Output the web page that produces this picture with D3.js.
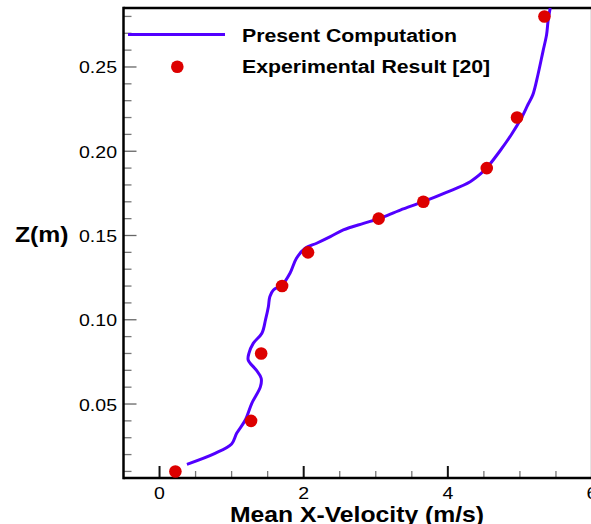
<!DOCTYPE html>
<html>
<head>
<meta charset="utf-8">
<script src="https://cdn.jsdelivr.net/npm/d3@7"></script>
<style>
  html, body { margin: 0; padding: 0; background: #fff; }
  svg { display: block; font-family: Arial, "Liberation Sans", Helvetica, sans-serif; }
</style>
</head>
<body>
<svg id="chart" width="591" height="524"></svg>
<script>
// Experimental velocity profile
const expVelocity = [0.22, 1.27, 1.41, 1.70, 2.06, 3.04, 3.66, 4.54, 4.96, 5.34];
const expHeight   = [0.01, 0.04, 0.08, 0.12, 0.14, 0.16, 0.17, 0.19, 0.22, 0.28];

// Computed velocity profile
const compVelocity = [0.38, 0.77, 1.00, 1.07, 1.19, 1.28, 1.40, 1.41, 1.34, 1.23, 1.24, 1.30,
  1.42, 1.47, 1.51, 1.53, 1.58, 1.70, 1.81, 1.90, 2.02, 2.18, 2.37, 2.55, 2.83, 3.03, 3.34,
  3.66, 3.98, 4.31, 4.49, 4.54, 4.72, 4.88, 5.02, 5.11, 5.18, 5.25, 5.32, 5.37, 5.39, 5.42];
const compHeight = [0.0142, 0.0207, 0.0263, 0.0326, 0.0405, 0.0504, 0.0603, 0.0653, 0.0702,
  0.0761, 0.0801, 0.0860, 0.0920, 0.0999, 0.1077, 0.1137, 0.1177, 0.1206, 0.1276, 0.1365,
  0.1424, 0.1454, 0.1493, 0.1533, 0.1572, 0.1598, 0.1651, 0.1701, 0.1756, 0.1819, 0.1879,
  0.1901, 0.2000, 0.2098, 0.2197, 0.2276, 0.2336, 0.2454, 0.2593, 0.2692, 0.2771, 0.2850];

const xMajorTicks = [0, 2, 4, 6];
const xMinorTicks = [0.5, 1, 1.5, 2.5, 3, 3.5, 4.5, 5, 5.5];
const yMajorTicks = [0.05, 0.10, 0.15, 0.20, 0.25];
const yMinorTicks = d3.range(1, 29).map(i => i / 100).filter(v => Math.round(v * 100) % 5 !== 0);

const xTitle = "Mean X-Velocity (m/s)";
const yTitle = "Z(m)";
const legendNames = ["Present Computation", "Experimental Result [20]"];

const lineColor = "#5200ff";
const dotColor = "#dd0000";
const stretch = 1.15;

const svg = d3.select("#chart");
const plotLeft = 123.5, plotRight = 592, plotTop = 8, plotBottom = 478;

const x = d3.scaleLinear().domain([-0.5, 6]).range([plotLeft, plotRight]);
const y = d3.scaleLinear().domain([0.0061, 0.285]).range([plotBottom, plotTop]);

svg.append("defs").append("clipPath").attr("id", "plotClip")
  .append("rect").attr("x", plotLeft).attr("y", plotTop)
  .attr("width", plotRight - plotLeft).attr("height", plotBottom - plotTop);

// right frame edge, faint
svg.append("line").attr("x1", 590.5).attr("x2", 590.5).attr("y1", plotTop).attr("y2", plotBottom)
  .attr("stroke", "#e4e4e4").attr("stroke-width", 1);

// y ticks (inward)
const yAxisG = svg.append("g");
yMinorTicks.forEach(v => {
  yAxisG.append("line").attr("x1", plotLeft).attr("x2", plotLeft + 8)
    .attr("y1", y(v)).attr("y2", y(v)).attr("stroke", "#777").attr("stroke-width", 1.3);
});
yMajorTicks.forEach(v => {
  yAxisG.append("line").attr("x1", plotLeft).attr("x2", plotLeft + 13)
    .attr("y1", y(v)).attr("y2", y(v)).attr("stroke", "#666").attr("stroke-width", 1.3);
  yAxisG.append("text")
    .attr("transform", `translate(117,${y(v) + 6.5}) scale(${stretch},1)`)
    .attr("text-anchor", "end").attr("font-size", 17).attr("fill", "#000")
    .text(d3.format(".2f")(v));
});

// x ticks (inward)
const xAxisG = svg.append("g");
xMinorTicks.forEach(v => {
  xAxisG.append("line").attr("x1", x(v)).attr("x2", x(v))
    .attr("y1", plotBottom).attr("y2", plotBottom - 7).attr("stroke", "#777").attr("stroke-width", 1.3);
});
xMajorTicks.forEach(v => {
  xAxisG.append("line").attr("x1", x(v)).attr("x2", x(v))
    .attr("y1", plotBottom).attr("y2", plotBottom - 12).attr("stroke", "#111").attr("stroke-width", 2);
  xAxisG.append("text")
    .attr("transform", `translate(${x(v)},498.5) scale(${stretch},1)`)
    .attr("text-anchor", "middle").attr("font-size", 17).attr("fill", "#000")
    .text(v);
});

// frame lines
svg.append("line").attr("x1", plotLeft).attr("x2", plotLeft)
  .attr("y1", plotTop - 1.2).attr("y2", plotBottom + 1.2)
  .attr("stroke", "#000").attr("stroke-width", 2.5);
svg.append("line").attr("x1", plotLeft).attr("x2", 591).attr("y1", plotBottom).attr("y2", plotBottom)
  .attr("stroke", "#000").attr("stroke-width", 2.5);
svg.append("line").attr("x1", plotLeft).attr("x2", 591).attr("y1", plotTop).attr("y2", plotTop)
  .attr("stroke", "#000").attr("stroke-width", 2.5);

// computed profile
const compData = compVelocity.map((v, i) => [v, compHeight[i]]);
svg.append("path").datum(compData)
  .attr("clip-path", "url(#plotClip)")
  .attr("fill", "none").attr("stroke", lineColor).attr("stroke-width", 3)
  .attr("stroke-linejoin", "round")
  .attr("d", d3.line().curve(d3.curveCatmullRom.alpha(0.5)).x(d => x(d[0])).y(d => y(d[1])));

// experimental points
svg.append("g").selectAll("circle")
  .data(expVelocity.map((v, i) => [v, expHeight[i]]))
  .join("circle")
  .attr("cx", d => x(d[0])).attr("cy", d => y(d[1])).attr("r", 6.3)
  .attr("fill", dotColor);

// legend
svg.append("line").attr("x1", 128).attr("x2", 225).attr("y1", 34.5).attr("y2", 34.5)
  .attr("stroke", lineColor).attr("stroke-width", 3);
svg.append("circle").attr("cx", 177.3).attr("cy", 66.7).attr("r", 6.3).attr("fill", dotColor);
svg.append("text")
  .attr("transform", `translate(242,41.7) scale(${stretch},1)`)
  .attr("font-size", 18.5).attr("font-weight", "bold").attr("fill", "#000")
  .text(legendNames[0]);
svg.append("text")
  .attr("transform", `translate(242,73) scale(${stretch},1)`)
  .attr("font-size", 18.5).attr("font-weight", "bold").attr("fill", "#000")
  .text(legendNames[1]);

// axis titles
svg.append("text")
  .attr("transform", `translate(357,521.5) scale(${stretch},1)`)
  .attr("text-anchor", "middle").attr("font-size", 21.5).attr("font-weight", "bold").attr("fill", "#000")
  .text(xTitle);
svg.append("text")
  .attr("transform", `translate(15,241.5) scale(${stretch},1)`)
  .attr("font-size", 21.5).attr("font-weight", "bold").attr("fill", "#000")
  .text(yTitle);
</script>
</body>
</html>
